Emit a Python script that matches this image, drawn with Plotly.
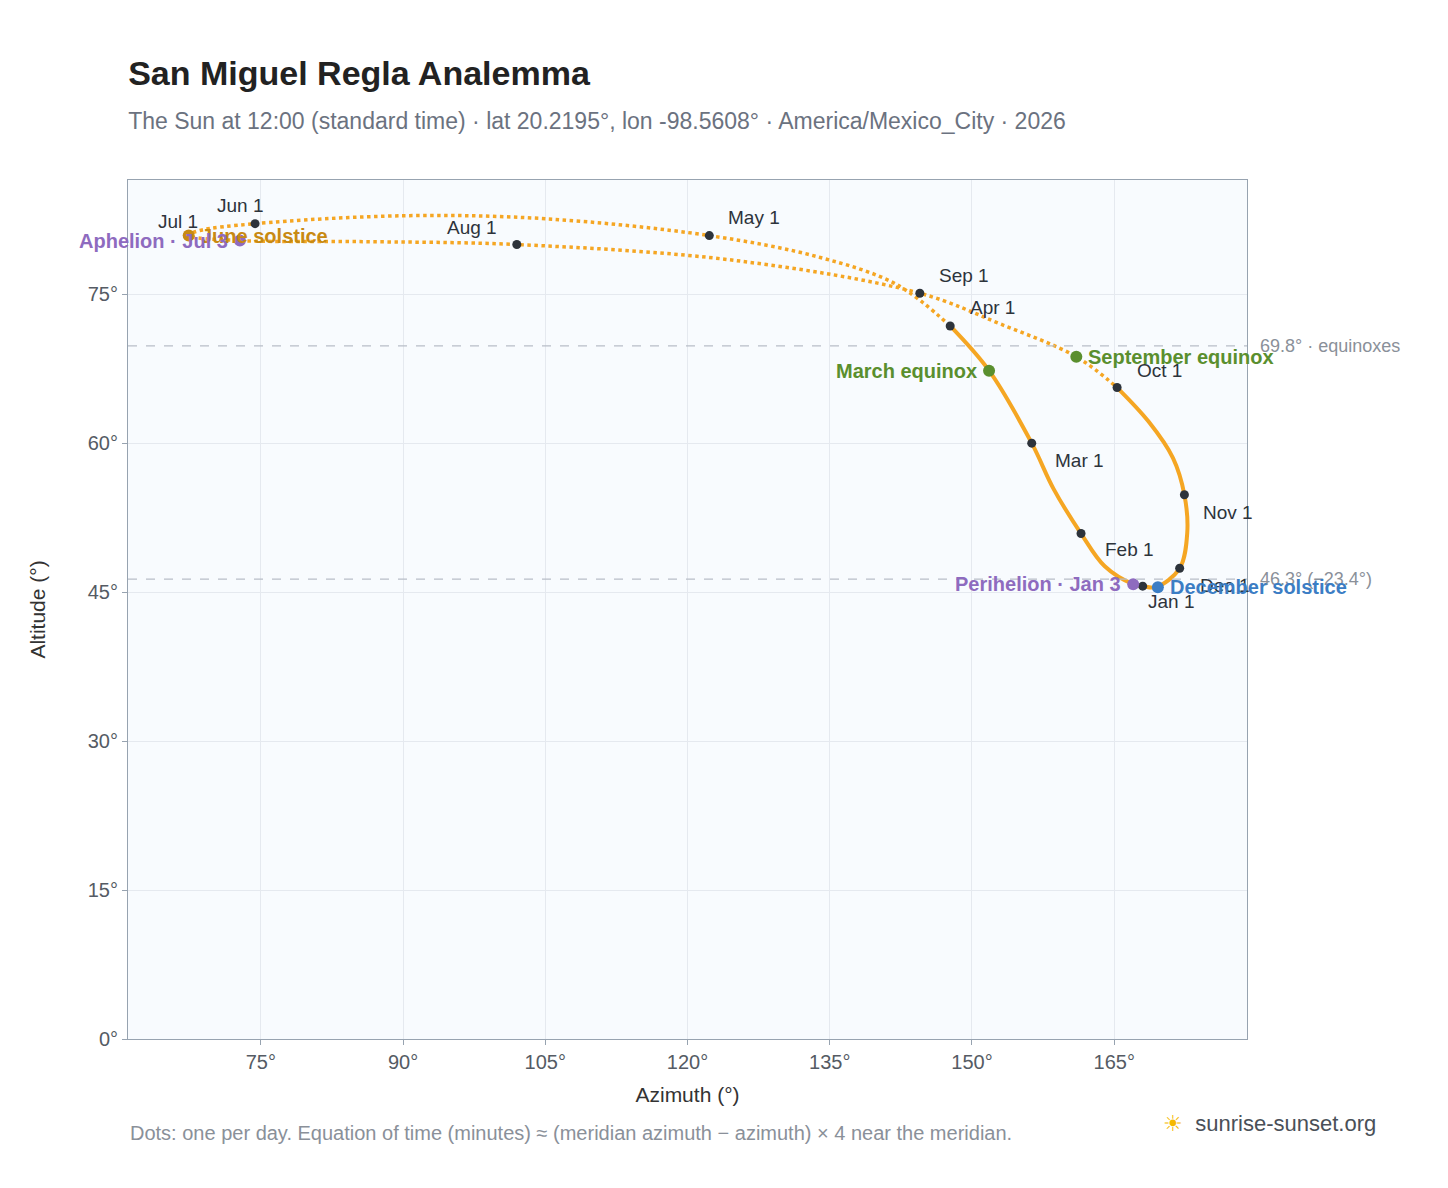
import plotly.graph_objects as go

# analemma path (azimuth, altitude)
slow_az = [165.3, 168.6, 171.2, 172.4, 172.7, 171.9, 169.4, 168.0, 167.0, 164.0, 161.5, 158.6, 156.3, 151.8, 147.7]
slow_alt = [65.6, 62.2, 58.5, 54.8, 51.0, 47.4, 45.5, 45.6, 45.8, 47.6, 50.9, 55.4, 60.0, 67.3, 71.8]
fast_az = [147.7, 142.0, 134.0, 122.3, 105.0, 90.0, 74.4, 68.5, 67.3, 72.8, 85.0, 102.0, 125.0, 144.5, 153.0, 161.0, 165.3]
fast_alt = [71.8, 76.0, 78.7, 80.9, 82.6, 82.9, 82.1, 81.4, 80.9, 80.4, 80.3, 80.0, 78.4, 75.1, 72.0, 68.7, 65.6]

month_labels = ["Jan 1", "Feb 1", "Mar 1", "Apr 1", "May 1", "Jun 1", "Jul 1", "Aug 1", "Sep 1", "Oct 1", "Nov 1", "Dec 1"]
month_az = [168.0, 161.5, 156.3, 147.7, 122.3, 74.4, 67.3, 102.0, 144.5, 165.3, 172.4, 171.9]
month_alt = [45.6, 50.9, 60.0, 71.8, 80.9, 82.1, 80.9, 80.0, 75.1, 65.6, 54.8, 47.4]

event_labels = ["March equinox", "June solstice", "September equinox", "December solstice", "Perihelion · Jan 3", "Aphelion · Jul 3"]
event_az = [151.8, 67.4, 161.0, 169.6, 167.0, 72.8]
event_alt = [67.3, 80.9, 68.7, 45.5, 45.8, 80.4]
event_colors = ["#5a8f2e", "#c88a12", "#5a8f2e", "#3b7dc4", "#8e6bbf", "#8e6bbf"]

x_ticks = [75, 90, 105, 120, 135, 150, 165]
y_ticks = [0, 15, 30, 45, 60, 75]

fig = go.Figure()
fig.add_trace(go.Scatter(x=fast_az, y=fast_alt, mode="lines", line=dict(color="#f5a623", width=3.5, dash="dot", shape="spline")))
fig.add_trace(go.Scatter(x=slow_az, y=slow_alt, mode="lines", line=dict(color="#f5a623", width=4, shape="spline")))

fig.add_hline(y=69.8, line=dict(color="#b8bec8", dash="dash", width=1.2))
fig.add_hline(y=46.3, line=dict(color="#b8bec8", dash="dash", width=1.2))
fig.add_annotation(x=1.01, xref="paper", y=69.8, text="69.8° · equinoxes", showarrow=False, xanchor="left",
                   font=dict(color="#8a9099", size=18))
fig.add_annotation(x=1.01, xref="paper", y=46.3, text="46.3° (−23.4°)", showarrow=False, xanchor="left",
                   font=dict(color="#8a9099", size=18))

fig.add_trace(go.Scatter(x=month_az, y=month_alt, mode="markers", marker=dict(color="#2d333b", size=9)))
offsets = {"Jan 1": (28, 15), "Feb 1": (48, 16), "Mar 1": (48, 17), "Apr 1": (42, -18), "May 1": (45, -18),
           "Jun 1": (-15, -18), "Jul 1": (-10, -14), "Aug 1": (-45, -17), "Sep 1": (44, -18), "Oct 1": (42, -17),
           "Nov 1": (44, 18), "Dec 1": (45, 17)}
for lab, ax_, al in zip(month_labels, month_az, month_alt):
    dx, dy = offsets[lab]
    fig.add_annotation(x=ax_, y=al, text=lab, showarrow=False, xshift=dx, yshift=-dy,
                       font=dict(color="#2d333b", size=19))

fig.add_trace(go.Scatter(x=event_az, y=event_alt, mode="markers", marker=dict(color=event_colors, size=12)))
ev_anchor = ["right", "left", "left", "left", "right", "right"]
ev_shift = [-10, 10, 10, 10, -10, -10]
for lab, ax_, al, c, a, s in zip(event_labels, event_az, event_alt, event_colors, ev_anchor, ev_shift):
    fig.add_annotation(x=ax_, y=al, text="<b>%s</b>" % lab, showarrow=False, xanchor=a, xshift=s,
                       font=dict(color=c, size=20))

fig.add_annotation(x=0, xref="paper", y=-0.125, yref="paper", xanchor="left", showarrow=False,
                   text="Dots: one per day. Equation of time (minutes) ≈ (meridian azimuth − azimuth) × 4 near the meridian.",
                   font=dict(color="#8a9099", size=20))
fig.add_annotation(x=1.117, xref="paper", y=-0.115, yref="paper", xanchor="right", showarrow=False,
                   text="<span style='color:#f5b800'>☀</span>  sunrise-sunset.org", font=dict(color="#4a5058", size=22))

fig.update_layout(
    width=1448, height=1188,
    title=dict(text="<b>San Miguel Regla Analemma</b><br><span style='font-size:23px;color:#6b7280'>The Sun at 12:00 (standard time) · lat 20.2195°, lon -98.5608° · America/Mexico_City · 2026</span>",
               x=0.083, y=0.935, xanchor="left", font=dict(size=34, color="#222")),
    font=dict(family="Liberation Sans, Arial, sans-serif", size=20, color="#555b64"),
    showlegend=False,
    plot_bgcolor="#f8fbfe", paper_bgcolor="white",
    margin=dict(l=120, r=209, t=172, b=157),
    xaxis=dict(title=dict(text="Azimuth (°)", font=dict(color="#333", size=21)), range=[61, 179],
               tickvals=x_ticks, ticktext=["%d°" % v for v in x_ticks],
               gridcolor="#e5e9ef", zeroline=False, showline=True, linecolor="#97a3b0", mirror=True,
               ticks="outside", ticklen=5, tickcolor="#97a3b0"),
    yaxis=dict(title=dict(text="Altitude (°)", font=dict(color="#333", size=21), standoff=36), range=[0, 86.5],
               tickvals=y_ticks, ticktext=["%d°" % v for v in y_ticks],
               gridcolor="#e5e9ef", zeroline=False, showline=True, linecolor="#97a3b0", mirror=True,
               ticks="outside", ticklen=5, tickcolor="#97a3b0"),
)
fig.write_html("out.html")
